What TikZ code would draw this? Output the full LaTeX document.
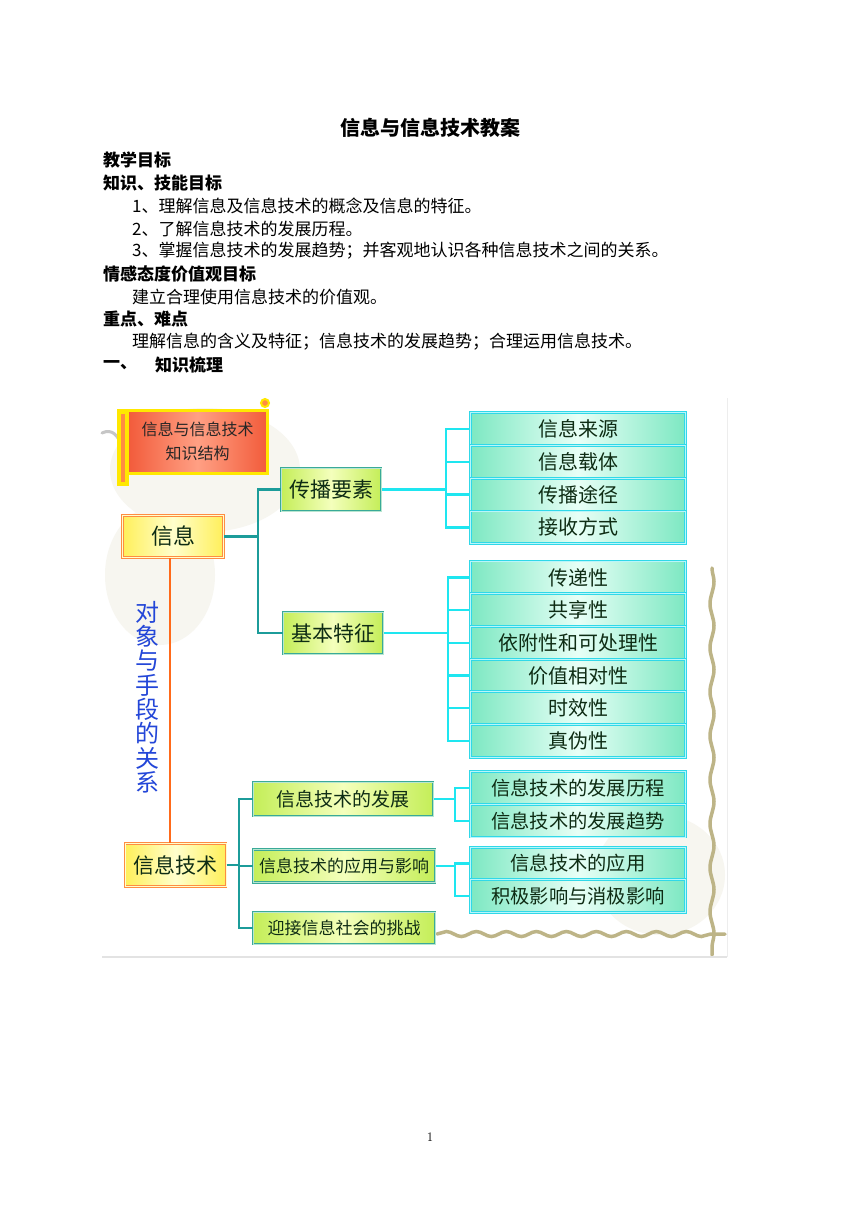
\documentclass[tikz,border=0pt]{standalone}
\usepackage{fontspec}
\newfontfamily\cjk{Noto Sans CJK SC}
\usetikzlibrary{decorations.pathmorphing}
\newcommand\myfs[1]{\fontsize{#1}{#1}\selectfont}
\definecolor{mint}{HTML}{7DE8C2}
\definecolor{mintl}{HTML}{E8FFF6}
\definecolor{leafb}{HTML}{30D8E8}
\definecolor{leafi}{HTML}{B8F6FA}
\definecolor{ygr}{HTML}{C4EE58}
\definecolor{yl}{HTML}{F4FFBC}
\definecolor{midb}{HTML}{3AAA98}
\definecolor{midi}{HTML}{B8E6D0}
\definecolor{yel}{HTML}{FFEF5A}
\definecolor{yell}{HTML}{FFFFCC}
\definecolor{orb}{HTML}{FF8C42}
\definecolor{txtg}{HTML}{0E2C14}
\definecolor{teal1}{HTML}{1C9C9A}
\definecolor{cyan1}{HTML}{1EE6F0}
\definecolor{orl}{HTML}{FF6A1A}
\definecolor{vblue}{HTML}{2346D8}
\definecolor{redd}{HTML}{F25A3A}
\definecolor{redl}{HTML}{FFA084}
\definecolor{scrolly}{HTML}{FFE800}
\definecolor{vine}{HTML}{BDB487}
\definecolor{shad}{HTML}{F7F6F0}
\begin{document}
\begin{tikzpicture}[x=1pt,y=-1pt,
  bodyline/.style={anchor=west, inner sep=0pt, text=black, font=\cjk\myfs{17}},
  headline/.style={anchor=west, inner sep=0pt, text=black, font=\cjk\bfseries\myfs{17}},
  leaf/.style={draw=leafb, line width=1pt, double=leafi, double distance=0.8pt,
    left color=mint, right color=mint, middle color=mintl,
    minimum width=215pt, minimum height=32.7pt, inner sep=0pt, text=txtg, font=\cjk\myfs{20}},
  midbox/.style={draw=midb, line width=1pt, double=midi, double distance=0.8pt,
    left color=ygr, right color=ygr, middle color=yl, inner sep=0pt, text=txtg},
  rootbox/.style={draw=orb, line width=1pt, double=yell, double distance=0.9pt,
    left color=yel, right color=yel, middle color=yell,
    inner sep=0pt, text=txtg, minimum width=101pt, minimum height=42pt},
  tealc/.style={draw=teal1, line width=2.4pt, line join=miter},
  cyanc/.style={draw=cyan1, line width=2.4pt, line join=miter},
  vineline/.style={draw=vine, line width=3.5pt, line cap=round, decorate,
    decoration={snake, amplitude=2pt, segment length=44pt}}
]
\useasboundingbox (0,0) rectangle (860,1216);
\fill[white] (0,0) rectangle (860,1216);

% ---------- document text ----------
\node[font=\cjk\bfseries\myfs{20}, inner sep=0pt] (title) at (430,128) {信息与信息技术教案};
\node[headline] (h1) at (103,160) {教学目标};
\node[headline] (h2) at (103,183) {知识、技能目标};
\node[bodyline] (l1) at (132,206) {1、理解信息及信息技术的概念及信息的特征。};
\node[bodyline] (l2) at (132,229) {2、了解信息技术的发展历程。};
\node[bodyline] (l3) at (132,251) {3、掌握信息技术的发展趋势；并客观地认识各种信息技术之间的关系。};
\node[headline] (h3) at (103,274) {情感态度价值观目标};
\node[bodyline] (l4) at (132,297) {建立合理使用信息技术的价值观。};
\node[headline] (h4) at (103,319) {重点、难点};
\node[bodyline] (l5) at (132,342) {理解信息的含义及特征；信息技术的发展趋势；合理运用信息技术。};
\node[headline] (h5) at (103,365) {一、};
\node[headline] (h6) at (155,365) {知识梳理};
\node[font=\myfs{13}, inner sep=0pt] (pg) at (430,1137) {1};

% ---------- picture background ----------
\fill[shad] (205,470) ellipse [x radius=95, y radius=62];
\fill[shad] (160,575) ellipse [x radius=55, y radius=70];
\fill[shad] (660,875) ellipse [x radius=65, y radius=60];
\draw[gray!45, line width=3pt, line cap=round] (102,433) .. controls (112,428) and (119,436) .. (121,446);
\draw[vineline] (712,568) -- (712,955);
\draw[vineline, decoration={snake, amplitude=2.5pt, segment length=30pt}] (437,934) -- (725,934);
\draw[gray!22, line width=1.2pt] (102,957) -- (727,957);
\draw[gray!14, line width=1pt] (727,398) -- (727,957);

% ---------- title scroll ----------
\draw[scrolly, line width=1.5pt, fill=scrolly] (118,410) rectangle (128,485);
\fill[orb] (121,414) rectangle (125,482);
\node[draw=scrolly, line width=3pt, left color=redd, right color=redd, middle color=redl,
  minimum width=140pt, minimum height=63pt, inner sep=0pt, align=center, text=black!85,
  font=\cjk\fontsize{16}{24}\selectfont] (tt) at (197.5,441.5) {信息与信息技术\\知识结构};
\draw[scrolly, line width=2pt, fill=orb] (265,403) circle [radius=4];

% ---------- roots ----------
\node[rootbox, font=\cjk\myfs{22}] (xx) at (173,536.5) {信息};
\node[rootbox, font=\cjk\myfs{21}, minimum height=43pt] (xj) at (175.5,865) {信息技术};
\node[font=\cjk\fontsize{24}{24.3}\selectfont, text=vblue, align=center, inner sep=0pt] (gx) at (147,697) {对\\象\\与\\手\\段\\的\\关\\系};
\draw[orl, line width=2.4pt] ([xshift=-3pt]xx.south) -- ([xshift=-5.5pt]xj.north);

% ---------- middle boxes ----------
\node[midbox, minimum width=100pt, minimum height=43pt, font=\cjk\myfs{21}] (cb) at (331,489.5) {传播要素};
\node[midbox, minimum width=100pt, minimum height=42pt, font=\cjk\myfs{21}] (jb) at (333,633) {基本特征};
\node[midbox, minimum width=180pt, minimum height=34pt, font=\cjk\myfs{19}] (fz) at (343,799) {信息技术的发展};
\node[midbox, minimum width=182pt, minimum height=33pt, font=\cjk\myfs{17}] (yy) at (344,866) {信息技术的应用与影响};
\node[midbox, minimum width=182pt, minimum height=32pt, font=\cjk\myfs{17}] (yj) at (344,928) {迎接信息社会的挑战};

% ---------- leaves ----------
\node[leaf] (a1) at (578,429.2) {信息来源};
\node[leaf] (a2) at (578,461.9) {信息载体};
\node[leaf] (a3) at (578,494.6) {传播途径};
\node[leaf] (a4) at (578,527.3) {接收方式};
\node[leaf] (b1) at (578,577.4) {传递性};
\node[leaf] (b2) at (578,610.1) {共享性};
\node[leaf] (b3) at (578,642.8) {依附性和可处理性};
\node[leaf] (b4) at (578,675.5) {价值相对性};
\node[leaf] (b5) at (578,708.2) {时效性};
\node[leaf] (b6) at (578,740.9) {真伪性};
\node[leaf, font=\cjk\myfs{19.3}] (c1) at (578,788) {信息技术的发展历程};
\node[leaf, font=\cjk\myfs{19.3}] (c2) at (578,820.7) {信息技术的发展趋势};
\node[leaf, font=\cjk\myfs{19.3}] (d1) at (578,863.5) {信息技术的应用};
\node[leaf, font=\cjk\myfs{19.3}] (d2) at (578,896.2) {积极影响与消极影响};

% ---------- connectors ----------
\coordinate (t1) at (258,0);
\draw[tealc] (xx.east) -- (xx.east -| t1);
\draw[tealc] (cb.west) -- (cb.west -| t1) -- (jb.west -| t1) -- (jb.west);
\coordinate (t2) at (239,0);
\draw[tealc] (xj.east) -- (xj.east -| t2);
\draw[tealc] (fz.west) -- (fz.west -| t2) -- (yj.west -| t2) -- (yj.west);
\draw[tealc] (yy.west -| t2) -- (yy.west);

\coordinate (k1) at (446,0);
\draw[cyanc] (cb.east) -- (cb.east -| k1);
\draw[cyanc] (a1.west) -- (a1.west -| k1) -- (a4.west -| k1) -- (a4.west);
\foreach \n in {a2,a3} \draw[cyanc] (\n.west -| k1) -- (\n.west);
\coordinate (k2) at (448,0);
\draw[cyanc] (jb.east) -- (jb.east -| k2);
\draw[cyanc] (b1.west) -- (b1.west -| k2) -- (b6.west -| k2) -- (b6.west);
\foreach \n in {b2,b3,b4,b5} \draw[cyanc] (\n.west -| k2) -- (\n.west);
\coordinate (k3) at (455,0);
\draw[cyanc] (fz.east) -- (fz.east -| k3);
\draw[cyanc] (c1.west) -- (c1.west -| k3) -- (c2.west -| k3) -- (c2.west);
\draw[cyanc] (yy.east) -- (yy.east -| k3);
\draw[cyanc] (d1.west) -- (d1.west -| k3) -- (d2.west -| k3) -- (d2.west);
\end{tikzpicture}
\end{document}
